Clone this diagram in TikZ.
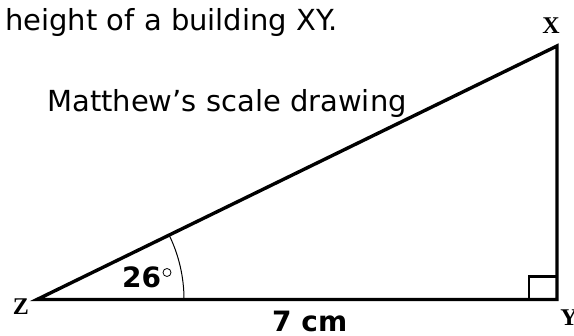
\documentclass[tikz,border=0pt]{standalone}
\usepackage{fontspec}
\usetikzlibrary{calc}
\setmainfont{DejaVu Sans}
\newfontfamily\lblfont{Liberation Serif}
\begin{document}
\begin{tikzpicture}[x=1pt,y=-1pt,
  edge/.style={line width=3.4pt,line join=miter},
  vlabel/.style={font=\lblfont\bfseries\fontsize{24}{24}\selectfont,inner sep=0pt},
  txt/.style={font=\fontsize{29}{32}\selectfont,inner sep=0pt,anchor=base west},
  btxt/.style={font=\bfseries\fontsize{28}{32}\selectfont,inner sep=0pt,anchor=base west}]
\useasboundingbox (0,0) rectangle (574,336);
\coordinate (Z) at (37,299.5);
\coordinate (Y) at (557,299.5);
\coordinate (X) at (557,46);
\draw[edge] (Z) -- (Y) -- (X) -- cycle;
\draw[line width=1pt] (Z) ++(147,0) arc[start angle=0,end angle=-25.99,radius=147];
\draw[line width=2.4pt] ($(Y)+(-28,0)$) |- ($(Y)+(0,-23)$);
\node[vlabel] (lx) at (551,26) {X};
\node[vlabel] (ly) at (569,318) {Y};
\node[vlabel] (lz) at (21,307) {Z};
\node[txt] (t1) at (5,31) {height of a building XY.};
\node[txt] (t2) at (47,112) {Matthew’s scale drawing};
\node[btxt] (ang) at (122,288) {26};
\node[draw,circle,line width=0.8pt,minimum size=8pt,inner sep=0pt] (deg) at (167,272.5) {};
\node[btxt] (len) at (272,332) {7 cm};
\end{tikzpicture}
\end{document}
